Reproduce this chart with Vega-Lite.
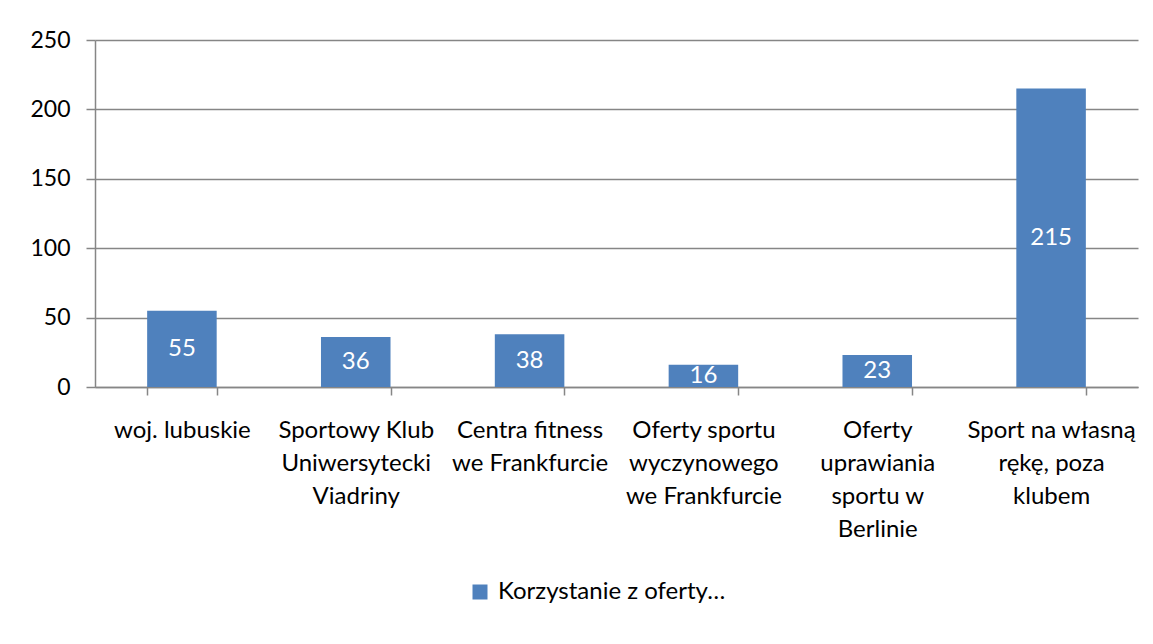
{
  "$schema": "https://vega.github.io/schema/vega-lite/v6.json",
  "width": 1043,
  "height": 347,
  "autosize": {"type": "none"},
  "padding": {"left": 95, "top": 40, "right": 15, "bottom": 257},
  "background": "#ffffff",
  "config": {
    "view": {"stroke": null},
    "font": "Lato"
  },
  "data": {
    "values": [
      {"kategoria": "woj. lubuskie", "wartosc": 55, "seria": "Korzystanie z oferty…"},
      {"kategoria": "Sportowy Klub|Uniwersytecki|Viadriny", "wartosc": 36, "seria": "Korzystanie z oferty…"},
      {"kategoria": "Centra fitness|we Frankfurcie", "wartosc": 38, "seria": "Korzystanie z oferty…"},
      {"kategoria": "Oferty sportu|wyczynowego|we Frankfurcie", "wartosc": 16, "seria": "Korzystanie z oferty…"},
      {"kategoria": "Oferty|uprawiania|sportu w|Berlinie", "wartosc": 23, "seria": "Korzystanie z oferty…"},
      {"kategoria": "Sport na własną|rękę, poza|klubem", "wartosc": 215, "seria": "Korzystanie z oferty…"}
    ]
  },
  "encoding": {
    "x": {
      "field": "kategoria",
      "type": "nominal",
      "sort": null,
      "scale": {"paddingInner": 0.6, "paddingOuter": 0.3},
      "axis": {
        "title": null,
        "labelAngle": 0,
        "labelExpr": "split(datum.label, '|')",
        "labelFont": "Lato",
        "labelFontSize": 24,
        "labelColor": "#000000",
        "labelLineHeight": 33,
        "labelPadding": 23,
        "labelBaseline": "top",
        "labelLimit": 300,
        "tickBand": "extent",
        "tickSize": 8,
        "tickColor": "#868686",
        "tickWidth": 1.5,
        "domainColor": "#868686",
        "domainWidth": 1.5,
        "grid": false
      }
    },
    "y": {
      "field": "wartosc",
      "type": "quantitative",
      "scale": {"domain": [0, 250]},
      "axis": {
        "title": null,
        "values": [0, 50, 100, 150, 200, 250],
        "labelFont": "Lato",
        "labelFontSize": 23,
        "labelColor": "#000000",
        "labelPadding": 16,
        "tickSize": 9,
        "tickColor": "#868686",
        "tickWidth": 1.5,
        "domainColor": "#868686",
        "domainWidth": 1.5,
        "grid": true,
        "gridColor": "#868686",
        "gridWidth": 1.5
      }
    }
  },
  "layer": [
    {
      "mark": {"type": "bar"},
      "encoding": {
        "color": {
          "field": "seria",
          "type": "nominal",
          "scale": {"range": ["#4F81BD"]},
          "legend": {
            "orient": "none",
            "legendX": 373,
            "legendY": 540,
            "title": null,
            "symbolType": "square",
            "symbolSize": 225,
            "symbolStrokeWidth": 0,
            "labelFont": "Lato",
            "labelFontSize": 24,
            "labelColor": "#000000",
            "labelOffset": 6,
            "labelLimit": 0
          }
        }
      }
    },
    {
      "mark": {"type": "text", "color": "#ffffff", "font": "Lato", "fontSize": 24, "baseline": "middle"},
      "encoding": {
        "y": {"field": "wartosc", "type": "quantitative", "stack": "zero", "bandPosition": 0.5},
        "text": {"field": "wartosc", "type": "quantitative"}
      }
    }
  ]
}
